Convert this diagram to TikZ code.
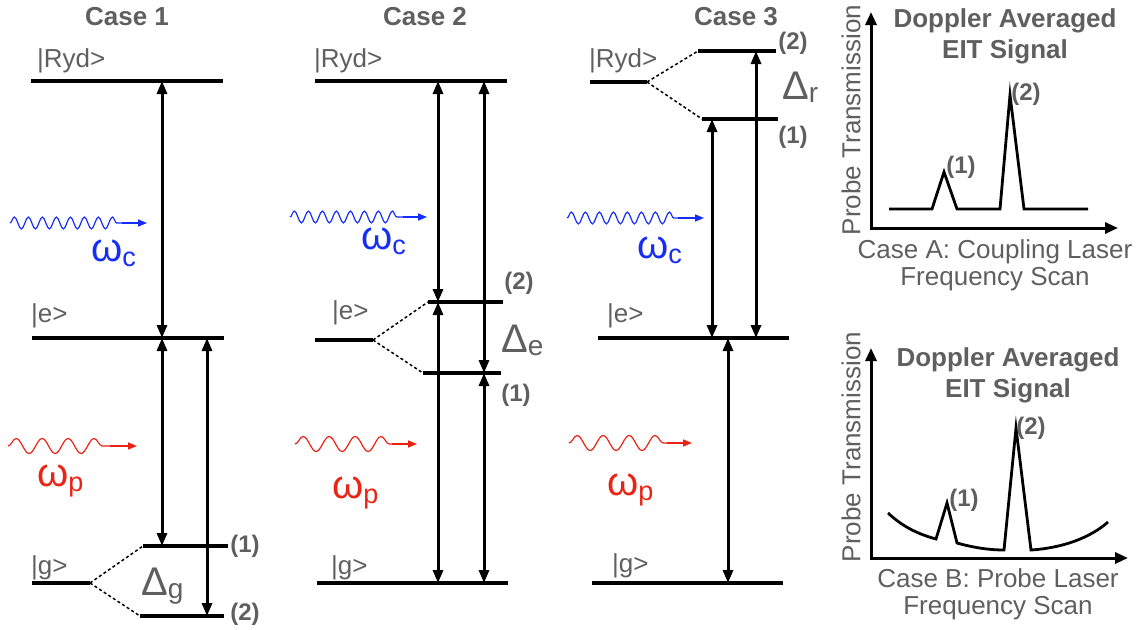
\documentclass[tikz,border=0pt]{standalone}
\usepackage{fontspec}
\setmainfont{Liberation Sans}
\usetikzlibrary{arrows.meta,decorations.pathmorphing,positioning}
\definecolor{labelGray}{RGB}{95,95,95}
\definecolor{coupleBlue}{RGB}{20,45,250}
\definecolor{probeRed}{RGB}{235,35,20}
\newcommand{\sizept}[1]{\fontsize{#1}{#1}\selectfont}

\begin{document}
\begin{tikzpicture}[x=1pt,y=-1pt,
  lvl/.style={line width=3.3pt},
  split/.style={line width=1.5pt,dash pattern=on 3pt off 2.5pt},
  dbl/.style={{Triangle[length=13pt,width=10pt]}-{Triangle[length=13pt,width=10pt]},line width=3pt},
  casettl/.style={text=labelGray,font=\bfseries\sizept{26},inner sep=0},
  state/.style={text=labelGray,font=\sizept{26},inner sep=0,anchor=west},
  branch/.style={text=labelGray,font=\bfseries\sizept{24},inner sep=0},
  delta/.style={text=labelGray,font=\sizept{40},inner sep=0,anchor=base west},
  omega/.style={font=\sizept{40},inner sep=0,anchor=base west},
  cwave/.style={coupleBlue,line width=1.2pt,decorate,decoration={snake,segment length=14pt,amplitude=6pt}},
  pwave/.style={probeRed,line width=1.2pt,decorate,decoration={snake,segment length=26pt,amplitude=7.5pt}},
  beam/.style={-{Triangle[length=9pt,width=7pt]},line width=1.5pt},
  axis/.style={{Triangle[length=13pt,width=11pt]}-{Triangle[length=13pt,width=11pt]},line width=3pt},
  plotttl/.style={text=labelGray,font=\bfseries\fontsize{26}{31}\selectfont,align=center,inner sep=0},
  plotlbl/.style={text=labelGray,font=\fontsize{26}{27}\selectfont,align=center,inner sep=0},
  signal/.style={line width=2.8pt,line join=miter}
]
  \useasboundingbox (0,0) rectangle (1148,629);

  % ---- Case 1: split ground state
  \node[casettl](t1) at (127,17) {Case 1};
  \node[state](ryd1) at (37,61) {|Ryd>};
  \node[state](e1)   at (31,316) {|e>};
  \node[state](g1)   at (31,568) {|g>};
  \draw[lvl] (31,81) coordinate (r1a) -- (223,81);
  \draw[lvl] (32,338) coordinate (e1a) -- (224,338);
  \draw[lvl] (32,583) -- (90,583) coordinate (g1s);
  \draw[lvl] (143,546) coordinate (g1u) -- (228,546) coordinate (g1ur);
  \draw[lvl] (140,616) coordinate (g1d) -- (224,616) coordinate (g1dr);
  \draw[split] (g1s) -- (g1u);\draw[split] (g1s) -- (g1d);
  \coordinate (a1) at (162,0);\coordinate (b1) at (207,0);
  \draw[dbl] (a1 |- r1a) -- (a1 |- e1a);
  \draw[dbl] (a1 |- e1a) -- (a1 |- g1u);
  \draw[dbl] (b1 |- e1a) -- (b1 |- g1d);
  \node[branch](n1a) at (245,546) {(1)};
  \node[branch](n1b) at (245,614) {(2)};
  \node[delta](dg) at (141,595) {Δ\raisebox{-3pt}{\sizept{28}g}};
  \draw[cwave] (10,223) coordinate (cw1) -- (122,223) coordinate (cw1e);
  \draw[beam,coupleBlue] (cw1e) -- (147,223) coordinate (cw1t);
  \node[omega,text=coupleBlue](wc1) at (91,261) {ω\raisebox{-5pt}{\sizept{27}c}};
  \draw[pwave] (8,446) coordinate (pw1) -- (110,446) coordinate (pw1e);
  \draw[beam,probeRed] (pw1e) -- (137,446) coordinate (pw1t);
  \node[omega,text=probeRed](wp1) at (37,486) {ω\raisebox{-5pt}{\sizept{27}p}};

  % ---- Case 2: split intermediate state
  \node[casettl](t2) at (425,17) {Case 2};
  \node[state](ryd2) at (314,61) {|Ryd>};
  \node[state](e2)   at (332,313) {|e>};
  \node[state](g2)   at (331,568) {|g>};
  \draw[lvl] (315,81) coordinate (r2a) -- (507,81);
  \draw[lvl] (315,340) -- (373,340) coordinate (e2s);
  \draw[lvl] (428,302) coordinate (e2u) -- (503,302);
  \draw[lvl] (423,373) coordinate (e2d) -- (501,373);
  \draw[lvl] (317,583) coordinate (g2a) -- (508,583);
  \draw[split] (e2s) -- (e2u);\draw[split] (e2s) -- (e2d);
  \coordinate (a2) at (438,0);\coordinate (b2) at (484,0);
  \draw[dbl] (a2 |- r2a) -- (a2 |- e2u);
  \draw[dbl] (a2 |- e2u) -- (a2 |- g2a);
  \draw[dbl] (b2 |- r2a) -- (b2 |- e2d);
  \draw[dbl] (b2 |- e2d) -- (b2 |- g2a);
  \node[branch](n2b) at (519,283) {(2)};
  \node[branch](n2a) at (516,395) {(1)};
  \node[delta](de) at (501,352) {Δ\raisebox{-3pt}{\sizept{28}e}};
  \draw[cwave] (290,217) coordinate (cw2) -- (403,217) coordinate (cw2e);
  \draw[beam,coupleBlue] (cw2e) -- (427,217) coordinate (cw2t);
  \node[omega,text=coupleBlue](wc2) at (361,249) {ω\raisebox{-5pt}{\sizept{27}c}};
  \draw[pwave] (295,444) coordinate (pw2) -- (392,444) coordinate (pw2e);
  \draw[beam,probeRed] (pw2e) -- (417,444) coordinate (pw2t);
  \node[omega,text=probeRed](wp2) at (332,498) {ω\raisebox{-5pt}{\sizept{27}p}};

  % ---- Case 3: split Rydberg state
  \node[casettl](t3) at (736,17) {Case 3};
  \node[state](ryd3) at (589,61) {|Ryd>};
  \node[state](e3)   at (607,316) {|e>};
  \node[state](g3)   at (612,566) {|g>};
  \draw[lvl] (590,82) -- (647,82) coordinate (r3s);
  \draw[lvl] (698,51) coordinate (r3u) -- (776,51);
  \draw[lvl] (702,119) coordinate (r3d) -- (778,119);
  \draw[lvl] (598,338) coordinate (e3a) -- (789,338);
  \draw[lvl] (592,583) coordinate (g3a) -- (783,583);
  \draw[split] (r3s) -- (r3u);\draw[split] (r3s) -- (r3d);
  \coordinate (a3) at (712,0);\coordinate (b3) at (756,0);\coordinate (c3) at (728,0);
  \draw[dbl] (a3 |- r3d) -- (a3 |- e3a);
  \draw[dbl] (b3 |- r3u) -- (b3 |- e3a);
  \draw[dbl] (c3 |- e3a) -- (c3 |- g3a);
  \node[branch](n3b) at (793,43) {(2)};
  \node[branch](n3a) at (793,137) {(1)};
  \node[delta](dr) at (782,99) {Δ\raisebox{-3pt}{\sizept{28}r}};
  \draw[cwave] (567,218) coordinate (cw3) -- (678,218) coordinate (cw3e);
  \draw[beam,coupleBlue] (cw3e) -- (704,218) coordinate (cw3t);
  \node[omega,text=coupleBlue](wc3) at (637,258) {ω\raisebox{-5pt}{\sizept{27}c}};
  \draw[pwave] (569,443) coordinate (pw3) -- (667,443) coordinate (pw3e);
  \draw[beam,probeRed] (pw3e) -- (692,443) coordinate (pw3t);
  \node[omega,text=probeRed](wp3) at (607,495) {ω\raisebox{-5pt}{\sizept{27}p}};

  % ---- Case A: coupling scan
  \coordinate (oA) at (871,228);
  \draw[axis] (871,12) -- (oA) -- (1118,228);
  \node[plotlbl,rotate=90](yA) at (851,120) {Probe Transmission};
  \node[plotttl](tA) at (1005,36) {Doppler Averaged\\EIT Signal};
  \node[plotlbl](xA) at (995,265) {Case A: Coupling Laser\\Frequency Scan};
  \draw[signal] (889,209) -- (932,209) -- (944,172) -- (957,209) -- (1000,209)
    -- (1010,95) -- (1024,209) -- (1088,209);
  \node[branch](pA1) at (961,167) {(1)};
  \node[branch](pA2) at (1026,94) {(2)};

  % ---- Case B: probe scan
  \coordinate (oB) at (871,558);
  \draw[axis] (871,348) -- (oB) -- (1128,558);
  \node[plotlbl,rotate=90](yB) at (851,447) {Probe Transmission};
  \node[plotttl](tB) at (1008,375) {Doppler Averaged\\EIT Signal};
  \node[plotlbl](xB) at (998,594) {Case B: Probe Laser\\Frequency Scan};
  \draw[signal] (888,513) .. controls (903,527) and (918,534) .. (936,539) -- (947,503)
    -- (957,543) .. controls (975,548) and (990,550) .. (1004,550) -- (1016,428)
    -- (1031,550) .. controls (1062,548) and (1090,538) .. (1108,522);
  \node[branch](pB1) at (964,500) {(1)};
  \node[branch](pB2) at (1031,428) {(2)};
\end{tikzpicture}
\end{document}
